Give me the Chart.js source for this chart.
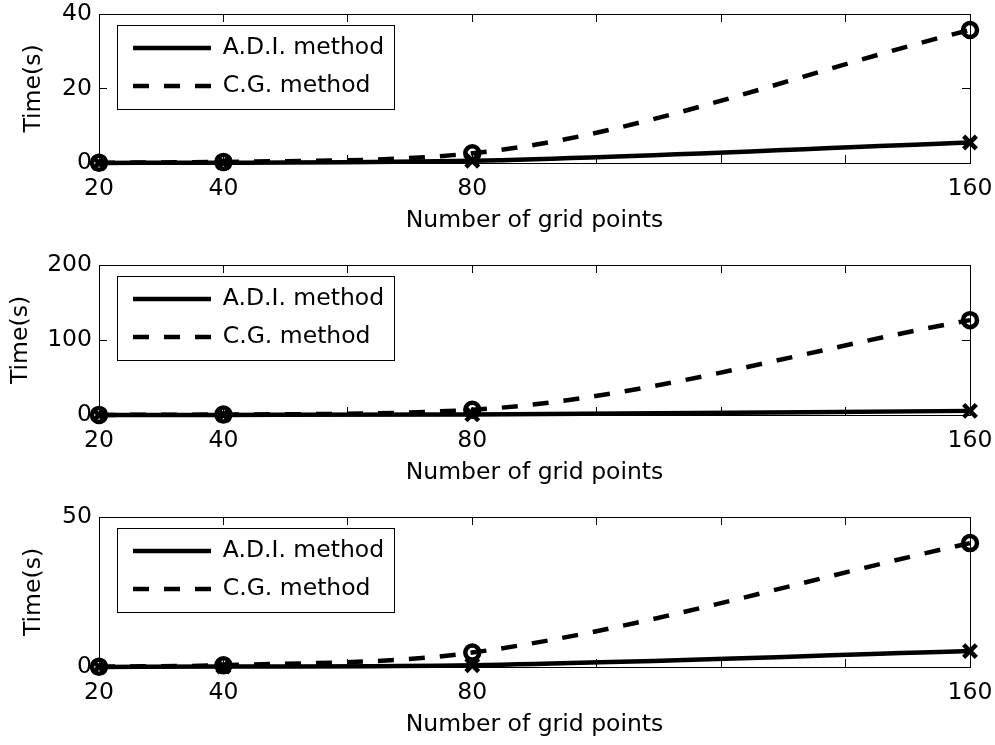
<!DOCTYPE html>
<html>
<head>
<meta charset="utf-8">
<script src="https://cdn.jsdelivr.net/npm/chart.js@4.4.0/dist/chart.umd.min.js"></script>
<style>
html, body { margin: 0; padding: 0; background: #fff; }
#wrap { position: relative; width: 995px; height: 745px; background: #fff; overflow: hidden; }
#wrap canvas { position: absolute; left: 0; }
</style>
</head>
<body>
<div id="wrap">
  <canvas id="c1" width="995" height="250" style="top:0px"></canvas>
  <canvas id="c2" width="995" height="250" style="top:250px"></canvas>
  <canvas id="c3" width="995" height="245" style="top:500px"></canvas>
</div>
<script>
// ---- data ----
const gridPoints = [20, 40, 80, 160];
const seriesNames = ['A.D.I. method', 'C.G. method'];
const xTickMarks = [20, 40, 60, 80, 100, 120, 140, 160];
const xTickLabels = [20, 40, 80, 160];
const xTitle = 'Number of grid points';
const yTitle = 'Time(s)';

const adi1 = [0.02, 0.1, 0.6, 5.5];
const cg1  = [0.05, 0.3, 2.6, 35.7];
const yTicks1 = [0, 20, 40];

const adi2 = [0.03, 0.15, 0.8, 5.5];
const cg2  = [0.1, 0.6, 7, 126.5];
const yTicks2 = [0, 100, 200];

const adi3 = [0.03, 0.15, 0.6, 5.3];
const cg3  = [0.1, 0.6, 4.8, 41.3];
const yTicks3 = [0, 50];

// ---- style ----
Chart.defaults.font.family = "'DejaVu Sans', 'Liberation Sans', Arial, sans-serif";
Chart.defaults.font.size = 23.5;
Chart.defaults.color = '#000';

const FS = 23.5;

function zeroPad(s) {
  s.paddingLeft = 0; s.paddingRight = 0; s.paddingTop = 0; s.paddingBottom = 0;
}

const legendBoxPlugin = {
  id: 'legendBox',
  afterLayout(chart) {
    const lg = chart.legend, ca = chart.chartArea;
    if (!lg || !ca) return;
    lg.left = ca.left + 19.5;
    lg.top = ca.top + 7.75;
    lg.right = ca.right;
    lg.bottom = ca.bottom;
  },
  afterDraw(chart) {
    const lg = chart.legend;
    if (!lg) return;
    const hb = lg.legendHitBoxes;
    if (!hb || !hb.length) return;
    const ctx = chart.ctx;
    const x0 = hb[0].left - 16;
    const y0 = hb[0].top + hb[0].height / 2 - 23;
    const x1 = Math.max(...hb.map(h => h.left + h.width)) + 10;
    const last = hb[hb.length - 1];
    const y1 = last.top + last.height / 2 + 23;
    ctx.save();
    ctx.strokeStyle = '#000';
    ctx.lineWidth = 1;
    ctx.setLineDash([]);
    ctx.strokeRect(Math.round(x0) + 0.5, Math.round(y0) + 0.5, Math.round(x1 - x0), Math.round(y1 - y0));
    ctx.restore();
  }
};

function makeChart(id, adi, cg, yTicks, pad, yTitlePad) {
  const yMax = yTicks[yTicks.length - 1];
  const gridOpts = { drawOnChartArea: false, drawTicks: true, tickLength: -8, color: '#000', lineWidth: 1 };
  const borderOpts = { display: true, color: '#000', width: 1 };
  return new Chart(document.getElementById(id), {
    type: 'line',
    data: {
      datasets: [
        {
          label: seriesNames[0],
          data: gridPoints.map((x, i) => ({ x: x, y: adi[i] })),
          borderColor: '#000',
          borderWidth: 4.5,
          borderDash: [],
          pointStyle: 'crossRot',
          pointRadius: 9,
          pointBorderWidth: 4.5,
          pointBorderColor: '#000',
          pointBackgroundColor: '#000',
          cubicInterpolationMode: 'monotone',
          tension: 0.4,
          fill: false,
          clip: false,
          xAxisID: 'x',
          yAxisID: 'y'
        },
        {
          label: seriesNames[1],
          data: gridPoints.map((x, i) => ({ x: x, y: cg[i] })),
          borderColor: '#000',
          borderWidth: 4.5,
          borderDash: [16, 15],
          pointStyle: 'circle',
          pointRadius: 7,
          pointBorderWidth: 4.5,
          pointBorderColor: '#000',
          pointBackgroundColor: 'rgba(0,0,0,0)',
          cubicInterpolationMode: 'monotone',
          tension: 0.4,
          fill: false,
          clip: false,
          xAxisID: 'x',
          yAxisID: 'y'
        }
      ]
    },
    options: {
      responsive: false,
      animation: false,
      devicePixelRatio: 1,
      events: [],
      layout: { padding: { top: pad.top, bottom: pad.bottom, left: 0, right: 25 } },
      plugins: {
        tooltip: { enabled: false },
        legend: {
          display: true,
          position: 'chartArea',
          align: 'start',
          labels: {
            usePointStyle: true,
            pointStyle: 'line',
            pointStyleWidth: 78,
            padding: 14.5,
            color: '#000',
            font: { size: FS },
            generateLabels(chart) {
              const items = Chart.defaults.plugins.legend.labels.generateLabels(chart);
              items.forEach(it => {
                const ds = chart.data.datasets[it.datasetIndex];
                it.lineDash = ds.borderDash || [];
                it.lineWidth = ds.borderWidth;
                it.strokeStyle = ds.borderColor;
                it.fillStyle = ds.borderColor;
                it.pointStyle = 'line';
                it.rotation = 0;
                it.lineCap = 'butt';
              });
              return items;
            }
          }
        }
      },
      scales: {
        x: {
          type: 'linear',
          position: 'bottom',
          min: 20,
          max: 160,
          afterBuildTicks: s => { s.ticks = xTickMarks.map(v => ({ value: v })); },
          afterFit: s => { s.height = 75; zeroPad(s); },
          ticks: {
            padding: 19.5,
            autoSkip: false,
            maxRotation: 0,
            minRotation: 0,
            color: '#000',
            font: { size: FS },
            callback: v => (xTickLabels.includes(v) ? String(v) : '')
          },
          grid: gridOpts,
          border: borderOpts,
          title: { display: true, text: xTitle, color: '#000', font: { size: FS }, padding: { top: 0, bottom: 3 } }
        },
        x2: {
          type: 'linear',
          position: 'top',
          min: 20,
          max: 160,
          afterBuildTicks: s => { s.ticks = xTickMarks.map(v => ({ value: v })); },
          afterFit: s => { s.height = 0; zeroPad(s); },
          ticks: { display: false },
          grid: gridOpts,
          border: borderOpts
        },
        y: {
          type: 'linear',
          position: 'left',
          min: 0,
          max: yMax,
          afterBuildTicks: s => { s.ticks = yTicks.map(v => ({ value: v })); },
          afterFit: s => { s.width = 99; zeroPad(s); },
          ticks: { padding: 15, color: '#000', font: { size: FS } },
          grid: gridOpts,
          border: borderOpts,
          title: { display: true, text: yTitle, color: '#000', font: { size: FS }, padding: { top: yTitlePad, bottom: 0 } }
        },
        y2: {
          type: 'linear',
          position: 'right',
          min: 0,
          max: yMax,
          afterBuildTicks: s => { s.ticks = yTicks.map(v => ({ value: v })); },
          afterFit: s => { s.width = 0; zeroPad(s); },
          ticks: { display: false },
          grid: gridOpts,
          border: borderOpts
        }
      }
    },
    plugins: [legendBoxPlugin]
  });
}

makeChart('c1', adi1, cg1, yTicks1, { top: 14, bottom: 12 }, 20);
makeChart('c2', adi2, cg2, yTicks2, { top: 15, bottom: 10 }, 7);
makeChart('c3', adi3, cg3, yTicks3, { top: 17, bottom: 3 }, 20);
</script>
</body>
</html>
